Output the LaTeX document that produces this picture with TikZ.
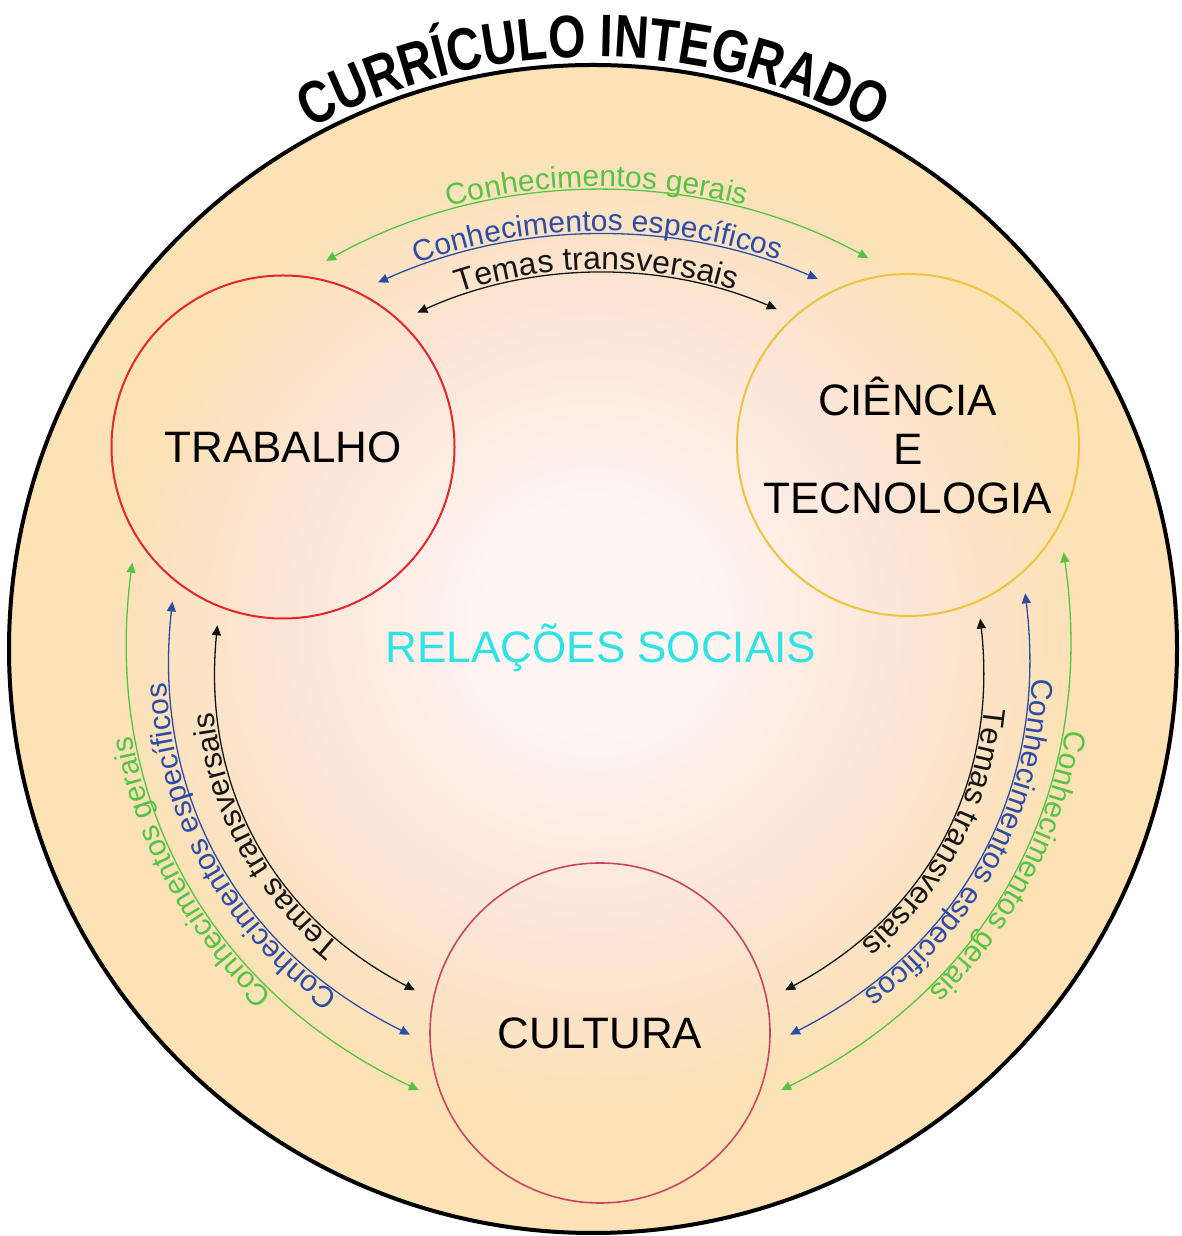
\documentclass[tikz,border=0pt]{standalone}
\usepackage{fontspec}
\setmainfont{Liberation Sans}
\newfontfamily\titlefont{Liberation Sans}[FakeStretch=0.8]
\usetikzlibrary{arrows.meta,decorations.text,calc}
\definecolor{cIn}{HTML}{FFF6F4}
\definecolor{cMid}{HTML}{FCE4D4}
\definecolor{cOut}{HTML}{FCE2B4}
\definecolor{cRed}{HTML}{E5262B}
\definecolor{cYel}{HTML}{EDC43C}
\definecolor{cCul}{HTML}{C94563}
\definecolor{cGreen}{HTML}{55C445}
\definecolor{cBlue}{HTML}{2D4CA6}
\definecolor{cBlack}{HTML}{151515}
\definecolor{cCyan}{HTML}{2EE3E6}
\pgfdeclareradialshading{bgshade}{\pgfpoint{0bp}{1.5bp}}{color(0bp)=(cIn); color(4bp)=(cIn); color(14bp)=(cMid); color(21bp)=(cOut); color(25bp)=(cOut); color(50bp)=(cOut)}
\newcommand\lblfont{\fontsize{30}{30}\selectfont}
\newcommand\temfont{\fontsize{32}{32}\selectfont}
\newcommand\temsidefont{\fontsize{31}{31}\selectfont}
% #1 colour, #2 from, #3 to, #4 bend, #5 text, #6 font, #7 looseness
\newcommand\arclabel[7]{%
  \draw[conn, draw=#1] (#2) to[bend left=#4, looseness=#7] (#3);
  \path[decorate, decoration={text along path, text align=center, raise=3.5pt, text color=#1, text={|#6|#5}}] (#2) to[bend left=#4, looseness=#7] (#3);
}
\begin{document}
\begin{tikzpicture}[x=1pt,y=1pt,
  conn/.style={line width=1.3pt, {Triangle[length=10pt,width=9pt]}-{Triangle[length=10pt,width=9pt]}},
  pillar/.style={circle, inner sep=0pt, outer sep=0pt, align=center, font=\fontsize{44}{49}\selectfont, text=black}]
\useasboundingbox (0,0) rectangle (1181,1236);
\fill[white] (0,0) rectangle (1181,1236);
\coordinate (O) at (593,587);
\shade[shading=bgshade] (O) circle[radius=584];
\draw[line width=4pt, black] (O) circle[radius=584];
% title
\path[decorate, decoration={text along path, text align=center, text={|\titlefont\bfseries\fontsize{60}{60}\selectfont|CURR{Í}CULO INTEGRADO}}] ($(O)+(150:592)$) arc[start angle=150, end angle=30, radius=592];
% pillars
\node[pillar, draw=cRed, line width=2pt, minimum size=343pt] (T) at (283,789) {TRABALHO};
\node[pillar, draw=cYel, line width=2pt, minimum size=342pt] (C) at (908,791) {CI{Ê}NCIA\\E\\TECNOLOGIA};
\node[pillar, draw=cCul, line width=1.6pt, minimum size=340pt] (U) at (600,203) {CULTURA};
\node[anchor=base, font=\fontsize{44}{44}\selectfont, text=cCyan] (rel) at (601,573) {RELAÇÕES SOCIAIS};
% arrow end points
\coordinate (tgA) at ($(T)+(77:191)$); \coordinate (tgB) at ($(C)+(102:191)$);
\coordinate (tbA) at ($(T)+(60:190)$); \coordinate (tbB) at ($(C)+(118.5:189)$);
\coordinate (tkA) at ($(T)+(45:190)$); \coordinate (tkB) at ($(C)+(134:189)$);
\coordinate (lgA) at ($(U)+(197.5:190)$); \coordinate (lgB) at ($(T)+(217.5:190)$);
\coordinate (lbA) at ($(U)+(180.5:190)$); \coordinate (lbB) at ($(T)+(234.4:190)$);
\coordinate (lkA) at ($(U)+(167:190)$); \coordinate (lkB) at ($(T)+(249.8:190)$);
\coordinate (rgA) at ($(C)+(-34.6:189)$); \coordinate (rgB) at ($(U)+(-17.5:190)$);
\coordinate (rbA) at ($(C)+(-51.7:189)$); \coordinate (rbB) at ($(U)+(-0.5:190)$);
\coordinate (rkA) at ($(C)+(-67.4:188)$); \coordinate (rkB) at ($(U)+(13:190)$);
% top
\arclabel{cGreen}{tgA}{tgB}{28.9}{Conhecimentos gerais}{\lblfont}{0.9}
\arclabel{cBlue}{tbA}{tbB}{23.7}{Conhecimentos espec{í}ficos}{\lblfont}{0.89}
\arclabel{cBlack}{tkA}{tkB}{23.8}{Temas transversais}{\temfont}{0.89}
% left
\arclabel{cGreen}{lgA}{lgB}{36}{Conhecimentos gerais}{\lblfont}{1}
\arclabel{cBlue}{lbA}{lbB}{35}{Conhecimentos espec{í}ficos}{\lblfont}{1}
\arclabel{cBlack}{lkA}{lkB}{34}{Temas transversais}{\temsidefont}{1}
% right
\arclabel{cGreen}{rgA}{rgB}{36}{Conhecimentos gerais}{\lblfont}{1}
\arclabel{cBlue}{rbA}{rbB}{35}{Conhecimentos espec{í}ficos}{\lblfont}{1}
\arclabel{cBlack}{rkA}{rkB}{34}{Temas transversais}{\temsidefont}{1}
\end{tikzpicture}
\end{document}
